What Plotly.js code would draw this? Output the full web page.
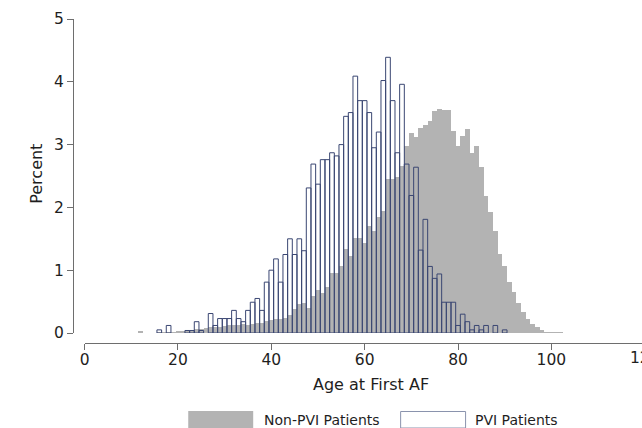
<!DOCTYPE html>
<html>
<head>
<meta charset="utf-8">
<script src="https://cdn.plot.ly/plotly-3.0.1.min.js"></script>
<style>html,body{margin:0;padding:0;background:#fff;}#chart{width:642px;height:428px;}</style>
</head>
<body>
<div id="chart"></div>
<script>
// Age bins (1-year bins, centred on the integer age)
const ages = [];
for (let a = 12; a <= 102; a++) ages.push(a);

// Non-PVI patients, percent per 1-year age bin (ages 12..102)
const nonPviPct = [
  0.03, 0, 0, 0, 0.01, 0.01, 0.02, 0.02, 0.03, 0.03,          // 12-21
  0.04, 0.05, 0.06, 0.07, 0.08, 0.09, 0.09, 0.10, 0.11, 0.12, // 22-31
  0.12, 0.13, 0.14, 0.13, 0.15, 0.16, 0.16, 0.19, 0.21, 0.22, // 32-41
  0.22, 0.24, 0.28, 0.39, 0.46, 0.47, 0.40, 0.59, 0.68, 0.64, // 42-51
  0.74, 0.96, 0.96, 1.06, 1.34, 1.23, 1.52, 1.51, 1.44, 1.70, // 52-61
  1.62, 1.84, 1.94, 2.46, 2.46, 2.49, 2.66, 2.98, 3.19, 3.12, // 62-71
  3.26, 3.31, 3.38, 3.54, 3.56, 3.55, 3.55, 3.21, 2.98, 3.14, // 72-81
  3.25, 2.87, 2.98, 2.65, 2.18, 1.93, 1.63, 1.26, 1.06, 0.81, // 82-91
  0.65, 0.47, 0.33, 0.22, 0.14, 0.09, 0.05, 0.02, 0.02, 0.02, // 92-101
  0.02                                                        // 102
];

// PVI patients, percent per 1-year age bin (ages 12..102)
const pviPct = [
  0, 0, 0, 0, 0.05, 0, 0.12, 0, 0, 0,                         // 12-21
  0.04, 0.04, 0.18, 0.04, 0, 0.31, 0.12, 0.23, 0.23, 0.23,    // 22-31
  0.36, 0.23, 0.18, 0.36, 0.49, 0.55, 0.36, 0.81, 1.00, 1.18, // 32-41
  0.81, 1.25, 1.50, 1.25, 1.50, 1.31, 2.31, 2.69, 2.37, 2.76, // 42-51
  2.76, 2.87, 2.82, 3.00, 3.45, 3.51, 4.09, 3.70, 3.70, 3.51, // 52-61
  2.95, 3.20, 4.02, 4.39, 3.70, 2.87, 3.96, 2.69, 2.19, 2.64, // 62-71
  1.32, 1.81, 1.06, 0.87, 0.94, 0.49, 0.49, 0.49, 0.12, 0.30, // 72-81
  0.18, 0.05, 0.12, 0.05, 0.12, 0, 0.12, 0, 0.05, 0,          // 82-91
  0, 0, 0, 0, 0, 0, 0, 0, 0, 0,                               // 92-101
  0                                                           // 102
];

const xTickVals = [0, 20, 40, 60, 80, 100];
const yTickVals = [0, 1, 2, 3, 4, 5];
const seriesNames = ["Non-PVI Patients", "PVI Patients"];
const xTitle = "Age at First AF";
const yTitle = "Percent";

const nz = arr => arr.map(v => (v > 0 ? v : null));

const FONT = "DejaVu Sans, sans-serif";
const GRAY = "#b3b3b3";
const NAVY = "#3a4672";
const AXIS = "#6e6e6e";
const TXT = "#1e1e1e";

// plot area geometry in px
const L = 72.7, R = 0, T = 19, B = 85;
const W = 642 - L - R, H = 428 - T - B;
const px2x = p => (p - L) / W;
const py2y = p => (428 - B - p) / H;

const xDom0 = px2x(84.3);
const xMax = 119.42;

const traces = [
  {
    type: "bar", x: ages, y: nz(nonPviPct), width: 1, name: seriesNames[0],
    marker: { color: GRAY, line: { width: 0 } }, hoverinfo: "x+y"
  },
  {
    type: "bar", x: ages, y: nz(pviPct), width: 1, name: seriesNames[1],
    marker: { color: "rgba(0,0,0,0)", line: { color: NAVY, width: 1 } }, hoverinfo: "x+y"
  }
];

const layout = {
  width: 642, height: 428,
  margin: { l: L, r: R, t: T, b: B, pad: 0 },
  paper_bgcolor: "#fff", plot_bgcolor: "#fff",
  barmode: "overlay", bargap: 0,
  showlegend: false,
  font: { family: FONT, color: TXT, size: 15.5 },
  xaxis: {
    domain: [xDom0, 1], range: [0, xMax], anchor: "free", position: 0,
    showline: true, linecolor: AXIS, linewidth: 1,
    ticks: "outside", ticklen: 6, tickcolor: AXIS, tickwidth: 1,
    ticklabelstandoff: -4,
    tickvals: xTickVals, ticktext: xTickVals.map(String),
    tickfont: { family: FONT, size: 15.5, color: TXT },
    showgrid: false, zeroline: false, fixedrange: true
  },
  yaxis: {
    domain: [py2y(333), 1], range: [0, 5], anchor: "free", position: 0,
    showline: true, linecolor: AXIS, linewidth: 1,
    ticks: "outside", ticklen: 6, tickcolor: AXIS, tickwidth: 1,
    tickvals: yTickVals, ticktext: yTickVals.map(String),
    tickfont: { family: FONT, size: 15.5, color: TXT },
    showgrid: false, zeroline: false, fixedrange: true
  },
  annotations: [
    { xref: "paper", yref: "paper", x: px2x(84.3 + 120 * 4.67), y: py2y(358),
      text: "120", showarrow: false, xanchor: "center", yanchor: "middle",
      font: { family: FONT, size: 15.5, color: TXT } },
    { xref: "paper", yref: "paper", x: px2x(371), y: py2y(385),
      text: xTitle, showarrow: false, xanchor: "center", yanchor: "middle",
      font: { family: FONT, size: 16, color: TXT } },
    { xref: "paper", yref: "paper", x: px2x(35.5), y: py2y(174),
      text: yTitle, showarrow: false, xanchor: "center", yanchor: "middle", textangle: -90,
      font: { family: FONT, size: 16, color: TXT } },
    { xref: "paper", yref: "paper", x: px2x(262), y: py2y(420),
      text: seriesNames[0], showarrow: false, xanchor: "left", yanchor: "middle",
      font: { family: FONT, size: 14, color: TXT } },
    { xref: "paper", yref: "paper", x: px2x(473), y: py2y(420),
      text: seriesNames[1], showarrow: false, xanchor: "left", yanchor: "middle",
      font: { family: FONT, size: 14, color: TXT } }
  ],
  shapes: [
    { type: "rect", xref: "paper", yref: "paper",
      x0: px2x(188), x1: px2x(253), y0: py2y(411), y1: py2y(428),
      fillcolor: GRAY, line: { width: 0 } },
    { type: "rect", xref: "paper", yref: "paper",
      x0: px2x(400.5), x1: px2x(465.5), y0: py2y(411.5), y1: py2y(428),
      fillcolor: "#fff", line: { color: "#8a93ad", width: 1 } }
  ]
};

Plotly.newPlot("chart", traces, layout, { staticPlot: true, displayModeBar: false });
</script>
</body>
</html>
